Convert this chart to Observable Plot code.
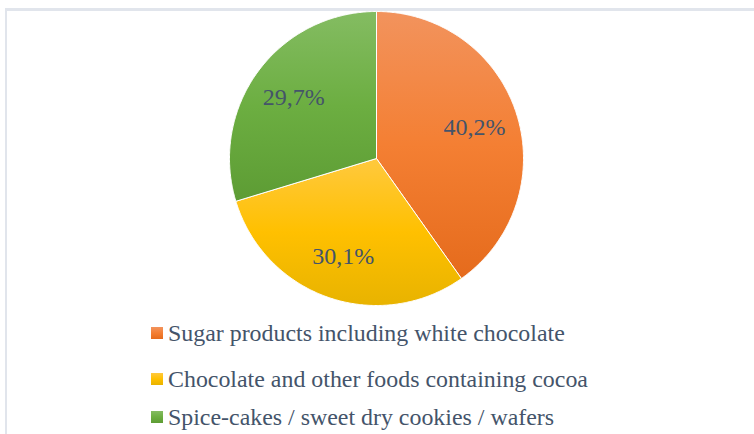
<!DOCTYPE html>
<html>
<head>
<meta charset="utf-8">
<script src="https://cdn.jsdelivr.net/npm/d3@7"></script>
<script src="https://cdn.jsdelivr.net/npm/@observablehq/plot@0.6"></script>
<style>
  html, body { margin: 0; padding: 0; background: #fff; overflow: hidden; }
  body { width: 754px; height: 434px; position: relative; }
  #chart { position: absolute; left: 0; top: 0; }
  #frame { position: absolute; left: 5px; top: 8px; width: 900px; height: 600px;
           border-top: 3px solid #e1e5ec; border-left: 2px solid #e1e5ec; pointer-events: none; }
  .row { position: absolute; left: 151px; display: flex; align-items: center; height: 24px;
         font-family: 'Liberation Serif', 'Tinos', 'Times New Roman', 'DejaVu Serif', serif; font-size: 23.9px; line-height: 24px;
         color: #44546a; white-space: nowrap; }
  .sw { width: 12px; height: 12px; margin-right: 5px; }
</style>
</head>
<body>
<div id="chart"></div>
<div id="legend"></div>
<div id="frame"></div>
<script>
// ---- data ----
const categories = [
  "Sugar products including white chocolate",
  "Chocolate and other foods containing cocoa",
  "Spice-cakes / sweet dry cookies / wafers"
];
const shares = [40.2, 30.1, 29.7];
const labels = ["40,2%", "30,1%", "29,7%"];

// ---- styles ----
const gradients = [
  ["#f2935d", "#f47f33", "#e56b1c"],
  ["#ffc93e", "#ffc000", "#e8b300"],
  ["#84bc62", "#6cae41", "#5d9c34"]
];
const legendTops = [321, 367, 405];
const serif = "'Liberation Serif', 'Tinos', 'Times New Roman', 'DejaVu Serif', serif";

// ---- geometry from the data via d3.pie ----
const arcs = d3.pie().sort(null).value(d => d)(shares);
const polys = [];
arcs.forEach((a, i) => {
  polys.push({slice: i, x: 0, y: 0});
  const n = Math.max(2, Math.ceil((a.endAngle - a.startAngle) / (Math.PI / 360)));
  for (let k = 0; k <= n; k++) {
    const t = a.startAngle + (a.endAngle - a.startAngle) * k / n;
    polys.push({slice: i, x: Math.sin(t), y: Math.cos(t)});
  }
  polys.push({slice: i, x: 0, y: 0});
});
const labelPts = arcs.map((a, i) => {
  const m = (a.startAngle + a.endAngle) / 2;
  return {x: 0.7 * Math.sin(m), y: 0.7 * Math.cos(m), label: labels[i]};
});

const plot = Plot.plot({
  width: 754,
  height: 318,
  marginLeft: 229,
  marginRight: 231,
  marginTop: 11,
  marginBottom: 13,
  x: {domain: [-1, 1], axis: null},
  y: {domain: [-1, 1], axis: null},
  color: {type: "identity"},
  style: {background: "transparent"},
  marks: [
    Plot.line(polys, {x: "x", y: "y", z: "slice", fill: d => `url(#pg${d.slice})`,
      stroke: "white", strokeWidth: 1, strokeLinejoin: "round", curve: "linear"}),
    Plot.text(labelPts, {x: "x", y: "y", text: "label", fontSize: 24,
      fontFamily: serif, fill: "#44546a"})
  ]
});

// gradient definitions
const ns = "http://www.w3.org/2000/svg";
const defs = document.createElementNS(ns, "defs");
gradients.forEach((stops, i) => {
  const g = document.createElementNS(ns, "linearGradient");
  g.setAttribute("id", "pg" + i);
  g.setAttribute("x1", "0"); g.setAttribute("y1", "0");
  g.setAttribute("x2", "0"); g.setAttribute("y2", "1");
  stops.forEach((c, k) => {
    const s = document.createElementNS(ns, "stop");
    s.setAttribute("offset", (k / (stops.length - 1)));
    s.setAttribute("stop-color", c);
    g.appendChild(s);
  });
  defs.appendChild(g);
});
plot.insertBefore(defs, plot.firstChild);
document.getElementById("chart").appendChild(plot);

// legend
const legend = document.getElementById("legend");
categories.forEach((c, i) => {
  const row = document.createElement("div");
  row.className = "row";
  row.style.top = legendTops[i] + "px";
  const sw = document.createElement("span");
  sw.className = "sw";
  sw.style.background = `linear-gradient(${gradients[i][0]}, ${gradients[i][1]}, ${gradients[i][2]})`;
  const tx = document.createElement("span");
  tx.textContent = c;
  row.appendChild(sw);
  row.appendChild(tx);
  legend.appendChild(row);
});
</script>
</body>
</html>
